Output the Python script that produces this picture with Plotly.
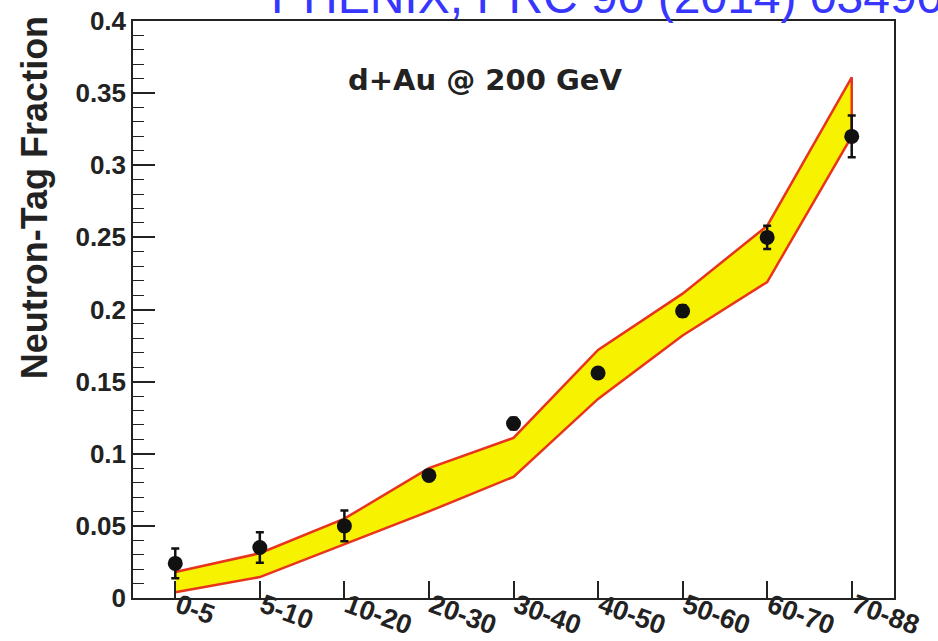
import plotly.graph_objects as go

# Centrality classes (%)
categories = ["0-5", "5-10", "10-20", "20-30", "30-40", "40-50", "50-60", "60-70", "70-88"]

# Measured neutron-tag fraction and its statistical uncertainty
fraction = [0.024, 0.035, 0.050, 0.085, 0.121, 0.156, 0.199, 0.250, 0.320]
fraction_err = [0.0103, 0.0105, 0.0107, 0.003, 0.004, 0.003, 0.004, 0.008, 0.0145]

# Model band: upper and lower edges
band_upper = [0.018, 0.031, 0.055, 0.090, 0.111, 0.172, 0.211, 0.258, 0.361]
band_lower = [0.004, 0.0145, 0.037, 0.060, 0.084, 0.138, 0.182, 0.219, 0.320]

y_tickvals = [0, 0.05, 0.1, 0.15, 0.2, 0.25, 0.3, 0.35, 0.4]
y_ticktext = ["0", "0.05", "0.1", "0.15", "0.2", "0.25", "0.3", "0.35", "0.4"]

idx = list(range(len(categories)))
AXIS = "#222222"
BOLD = dict(family="Liberation Sans, Arial, sans-serif", color=AXIS, weight="bold")

fig = go.Figure()

# Band: upper edge left->right, then lower edge right->left (closed by fill)
fig.add_trace(go.Scatter(
    x=idx + idx[::-1],
    y=band_upper + band_lower[::-1],
    mode="lines",
    fill="toself",
    fillcolor="#f7f200",
    line=dict(color="#e8341c", width=2.5),
    hoverinfo="skip",
    showlegend=False,
))

# Data points with error bars
fig.add_trace(go.Scatter(
    x=idx,
    y=fraction,
    mode="markers",
    marker=dict(symbol="circle", size=15, color="#111111"),
    error_y=dict(type="data", array=fraction_err, visible=True,
                 color="#111111", thickness=2.5, width=4),
    showlegend=False,
))

fig.update_layout(
    width=938, height=641,
    margin=dict(l=133, r=44, t=21, b=43),
    paper_bgcolor="white",
    plot_bgcolor="white",
    showlegend=False,
    xaxis=dict(
        range=[-0.5, len(categories) - 0.5],
        automargin=False,
        tickmode="array",
        tickvals=idx,
        ticktext=categories,
        tickangle=20,
        ticks="inside",
        ticklen=17,
        tickwidth=1.5,
        tickcolor=AXIS,
        ticklabelstandoff=-20,
        ticklabelshift=3,
        showline=True,
        linecolor=AXIS,
        linewidth=1.5,
        mirror=True,
        showgrid=False,
        zeroline=False,
        tickfont=dict(size=27, **BOLD),
    ),
    yaxis=dict(
        range=[0, 0.4],
        automargin=False,
        tickmode="array",
        tickvals=y_tickvals,
        ticktext=y_ticktext,
        ticks="inside",
        ticklen=22,
        tickwidth=1.5,
        tickcolor=AXIS,
        minor=dict(dtick=0.01, ticks="inside", ticklen=11, tickwidth=1.2,
                   tickcolor=AXIS, showgrid=False),
        showline=True,
        linecolor=AXIS,
        linewidth=1.5,
        mirror=True,
        showgrid=False,
        zeroline=False,
        tickfont=dict(size=26, **BOLD),
    ),
    annotations=[
        # Axis title, aligned toward the top end of the axis
        dict(text="Neutron-Tag Fraction", textangle=-90,
             xref="paper", yref="paper", x=-0.13, y=0.693,
             xanchor="center", yanchor="middle", showarrow=False,
             font=dict(size=36, **BOLD)),
        # Collision system label
        dict(text="d+Au @ 200 GeV",
             xref="paper", yref="paper", x=0.4626, y=0.898,
             xanchor="center", yanchor="middle", showarrow=False,
             font=dict(family="DejaVu Sans, sans-serif", size=29,
                       color="#222222", weight="bold")),
        # Reference
        dict(text="PHENIX, PRC 90 (2014) 034902",
             xref="paper", yref="paper", x=0.1787, y=1.0416,
             xanchor="left", yanchor="middle", showarrow=False,
             font=dict(family="Liberation Sans, Arial, sans-serif", size=48,
                       color="#3636ff")),
    ],
)

fig.write_html("out.html")
